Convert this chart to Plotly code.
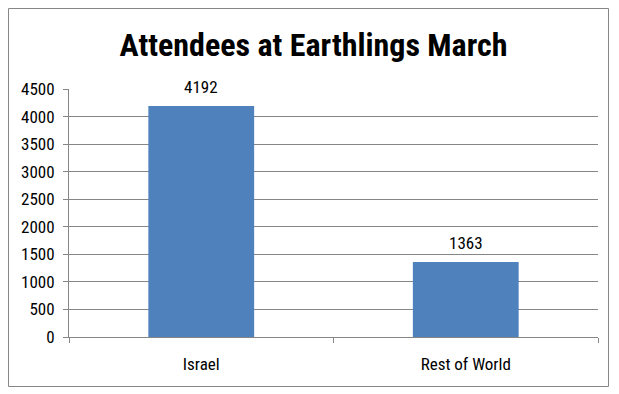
import plotly.graph_objects as go

categories = ["Israel", "Rest of World"]
attendees = [4192, 1363]
y_ticks = [0, 500, 1000, 1500, 2000, 2500, 3000, 3500, 4000, 4500]

# page has an 8px body margin, so the figure starts at (8, 8)
OFF = 8
W, H = 619 - OFF, 394 - OFF
L, T = 69 - OFF, 89 - OFF
R = W - (598 - OFF)
B = H - (337 - OFF)
pw, ph = W - L - R, H - T - B

font_family = "Liberation Sans Narrow, Roboto Condensed, Arial Narrow, Liberation Sans, sans-serif"

fig = go.Figure()
fig.add_trace(go.Bar(
    x=categories, y=attendees,
    marker=dict(color="#4F81BD", line=dict(width=0)),
    cliponaxis=False,
))

for c, v in zip(categories, attendees):
    fig.add_annotation(x=c, y=v, text=str(v), showarrow=False, xanchor="center",
                       yanchor="bottom", yshift=7,
                       font=dict(size=17, color="#000000", family=font_family))

def px_x(p):
    return (p - OFF - L) / pw

def px_y(p):
    return (H + OFF - B - p) / ph

fig.update_layout(
    width=W, height=H,
    margin=dict(l=L, r=R, t=T, b=B),
    paper_bgcolor="white", plot_bgcolor="white",
    bargap=0.6,
    showlegend=False,
    title=dict(text="<b>Attendees at Earthlings March</b>", x=0.5, xanchor="center",
               y=1 - (45 - OFF) / H, yanchor="middle",
               font=dict(size=32, color="#000000", family=font_family)),
    font=dict(family=font_family, size=17, color="#000000"),
    xaxis=dict(
        showline=True, linecolor="#868686", linewidth=1,
        ticks="outside", tickson="boundaries", ticklen=5, tickcolor="#868686",
        showgrid=False, tickfont=dict(size=17), ticklabelstandoff=12,
    ),
    yaxis=dict(
        range=[0, 4500], tickvals=y_ticks,
        showline=True, linecolor="#868686", linewidth=1,
        ticks="outside", ticklen=5, tickcolor="#868686",
        showgrid=True, gridcolor="#868686", gridwidth=1,
        zeroline=False, tickfont=dict(size=17), ticklabelstandoff=5,
    ),
    shapes=[dict(type="rect", xref="paper", yref="paper",
                 x0=px_x(8.5), x1=px_x(608.5), y0=px_y(386.5), y1=px_y(8.5),
                 line=dict(color="#868686", width=1), fillcolor="rgba(0,0,0,0)", layer="below")],
)

fig.write_html("out.html")
